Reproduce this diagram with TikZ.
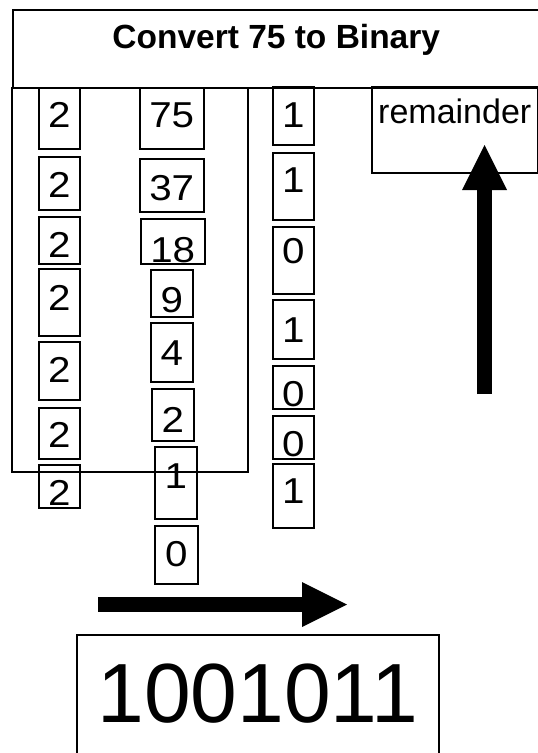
\documentclass[tikz,border=0pt]{standalone}
\usepackage{fontspec}
\setmainfont{Liberation Sans}
\newfontfamily\digitfamily[FakeStretch=1.12]{Liberation Sans}
\usepackage{tikz}
\usetikzlibrary{arrows.meta}
\newcommand\numfont{\digitfamily\fontsize{36}{42}\selectfont}
\newcommand\labelfont{\fontsize{34}{40}\selectfont}
\newcommand\headfont{\fontsize{33.5}{40}\selectfont\bfseries}
\newcommand\resultfont{\fontsize{84}{96}\selectfont}
\tikzstyle{numbox}=[draw,%
                    rectangle,%
                    line width    = 1.5pt,%
                    inner sep     = 0pt,%
                    anchor        = north west,%
                    font          = \numfont]
\tikzstyle{bigarrow}=[line width=15pt,-{Triangle[length=45pt,width=45pt,line width=0pt]}]
\begin{document}
\begin{tikzpicture}[x=1pt,y=-1pt]
            \useasboundingbox (0,0) rectangle (538,753);
            \node[numbox,font=\headfont,minimum width=527pt,minimum height=78pt,text height=39pt,text depth=39pt] (title) at (12,9) {Convert 75 to Binary};
            \draw[line width=1.5pt] (12,88) rectangle (248,472);
            \node[numbox,minimum width=41pt,minimum height=61pt,text height=40pt,text depth=21pt] (d1) at (38,87) {2};
            \node[numbox,minimum width=41pt,minimum height=53pt,text height=41pt,text depth=12pt] (d2) at (38,156) {2};
            \node[numbox,minimum width=41pt,minimum height=47pt,text height=41pt,text depth=6pt] (d3) at (38,216) {2};
            \node[numbox,minimum width=41pt,minimum height=67pt,text height=42pt,text depth=25pt] (d4) at (38,268) {2};
            \node[numbox,minimum width=41pt,minimum height=58pt,text height=41pt,text depth=17pt] (d5) at (38,341) {2};
            \node[numbox,minimum width=41pt,minimum height=51pt,text height=40pt,text depth=11pt] (d6) at (38,407) {2};
            \node[numbox,minimum width=41pt,minimum height=43pt,text height=41pt,text depth=2pt] (d7) at (38,464) {2};
            \node[numbox,minimum width=64pt,minimum height=61pt,text height=40pt,text depth=21pt] (n1) at (139,87) {75};
            \node[numbox,minimum width=64pt,minimum height=53pt,text height=42pt,text depth=11pt] (n2) at (139,158) {37};
            \node[numbox,minimum width=64pt,minimum height=45pt,text height=44pt,text depth=1pt] (n3) at (140,218) {18};
            \node[numbox,minimum width=42pt,minimum height=47pt,text height=43pt,text depth=4pt] (n4) at (150,269) {9};
            \node[numbox,minimum width=42pt,minimum height=59pt,text height=43pt,text depth=16pt] (n5) at (150,322) {4};
            \node[numbox,minimum width=42pt,minimum height=52pt,text height=44pt,text depth=8pt] (n6) at (151,388) {2};
            \node[numbox,minimum width=42pt,minimum height=72pt,text height=42pt,text depth=30pt] (n7) at (154,446) {1};
            \node[numbox,minimum width=43pt,minimum height=58pt,text height=41pt,text depth=17pt] (n8) at (154,525) {0};
            \node[numbox,minimum width=41pt,minimum height=58pt,text height=41pt,text depth=17pt] (r1) at (272,86) {1};
            \node[numbox,minimum width=41pt,minimum height=67pt,text height=40pt,text depth=27pt] (r2) at (272,152) {1};
            \node[numbox,minimum width=41pt,minimum height=67pt,text height=37pt,text depth=30pt] (r3) at (272,226) {0};
            \node[numbox,minimum width=41pt,minimum height=59pt,text height=43pt,text depth=16pt] (r4) at (272,299) {1};
            \node[numbox,minimum width=41pt,minimum height=43pt,text height=41pt,text depth=2pt] (r5) at (272,365) {0};
            \node[numbox,minimum width=41pt,minimum height=43pt,text height=41pt,text depth=2pt] (r6) at (272,415) {0};
            \node[numbox,minimum width=41pt,minimum height=64pt,text height=40pt,text depth=24pt] (r7) at (272,463) {1};
            \node[numbox,font=\labelfont,minimum width=166pt,minimum height=86pt,text height=37pt,text depth=49pt] (remlabel) at (371,86) {remainder};
            \node[numbox,font=\resultfont,minimum width=362pt,minimum height=150pt,text height=88pt,text depth=62pt] (result) at (76,634) {1001011};
            \coordinate (upfoot) at (484.5,394);
            \coordinate (uptip) at (484.5,145);
            \coordinate (rightfoot) at (98,604.5);
            \coordinate (righttip) at (347,604.5);
            \draw[bigarrow] (upfoot) -- (uptip);
            \draw[bigarrow] (rightfoot) -- (righttip);
\end{tikzpicture}
\end{document}
